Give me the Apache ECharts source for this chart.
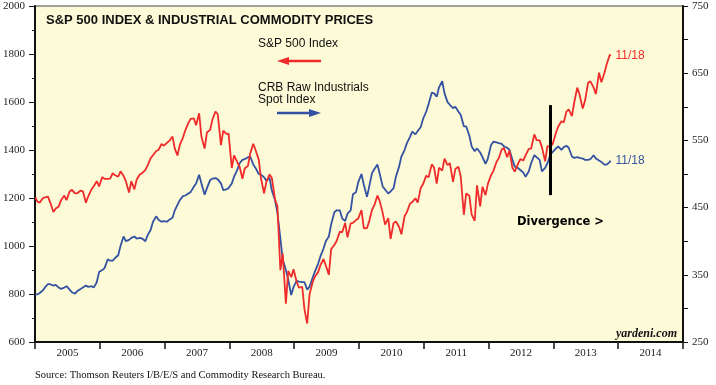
<!DOCTYPE html>
<html>
<head>
<meta charset="utf-8">
<script src="https://cdn.jsdelivr.net/npm/echarts@6/dist/echarts.min.js"></script>
<style>
html,body{margin:0;padding:0;background:#fff;}
#c{width:716px;height:385px;}
</style>
</head>
<body>
<div id="c"></div>
<script>
// Year categories for the x axis labels
const years = ['2005','2006','2007','2008','2009','2010','2011','2012','2013','2014'];

// S&P 500 Index (left axis), semi-monthly readings (15th, 28th) from Jan 2005 to 11/18/2013
const spxValues = [
  1202,
  1185,1181, 1200,1203, 1206,1181, 1142,1156, 1165,1191, 1210,1191, 1227,1234, 1219,1220, 1231,1228, 1180,1207, 1235,1249, 1270,1248,
  1287,1280, 1280,1281, 1303,1295, 1289,1311, 1292,1270, 1223,1270, 1236,1277, 1298,1304, 1317,1336, 1366,1378, 1396,1400, 1425,1418,
  1430,1438, 1456,1406, 1377,1421, 1452,1482, 1512,1530, 1532,1503, 1553,1455, 1406,1473, 1484,1527, 1560,1549, 1420,1481, 1467,1468,
  1325,1378, 1349,1331, 1280,1323, 1334,1386, 1426,1400, 1360,1280, 1220,1267, 1298,1283, 1193,1166, 899,969, 760,896, 870,903,
  850,826, 830,735, 677,798, 850,873, 890,919, 946,919, 880,987, 1004,1021, 1060,1057, 1096,1036, 1094,1096, 1108,1115,
  1150,1074, 1075,1104, 1150,1169, 1210,1187, 1136,1089, 1116,1030, 1096,1102, 1079,1049, 1125,1141, 1176,1183, 1199,1181, 1242,1258,
  1293,1286, 1340,1327, 1260,1326, 1314,1364, 1337,1345, 1267,1321, 1330,1292, 1130,1219, 1209,1131, 1105,1253, 1165,1247, 1212,1258,
  1295,1312, 1350,1366, 1402,1408, 1370,1398, 1325,1310, 1342,1362, 1356,1379, 1405,1406, 1465,1441, 1440,1412, 1353,1416, 1413,1426,
  1472,1498, 1520,1515, 1560,1569, 1541,1598, 1660,1631, 1573,1606, 1680,1686, 1661,1633, 1722,1682, 1721,1757, 1798,1791
];

// CRB Raw Industrials Spot Index (right axis), same dates
const crbValues = [
  321,
  321,323, 327,332, 336,336, 334,335, 331,329, 331,333, 328,324, 322,326, 329,331, 334,332, 333,331, 339,354,
  357,360, 373,371, 371,375, 379,393, 407,400, 402,405, 407,404, 405,404, 400,409, 417,429, 437,432, 429,430,
  429,432, 435,446, 454,461, 467,468, 471,473, 481,486, 499,486, 469,479, 491,493, 494,492, 486,476, 477,479,
  486,496, 506,516, 521,522, 525,526, 514,509, 500,499, 495,490, 494,475, 461,443, 404,373, 357,343, 320,332,
  341,340, 339,339, 328,332, 346,355, 366,377, 389,400, 407,425, 443,446, 446,434, 430,441, 446,470, 473,488,
  500,484, 466,482, 501,507, 514,500, 481,477, 471,474, 479,496, 511,526, 536,546, 555,563, 559,564, 570,582,
  593,604, 621,620, 615,629, 638,620, 607,603, 598,600, 593,588, 571,571, 557,541, 534,538, 532,525, 515,523,
  543,548, 547,546, 545,541, 539,536, 521,511, 509,506, 502,496, 504,516, 528,525, 521,504, 509,516, 529,533,
  538,541, 536,540, 542,539, 526,524, 525,524, 523,521, 521,522, 528,523, 520,518, 514,514, 518,520
];

// Sampling dates
const dates = ['2005-01-03'];
for (let y = 2005; y <= 2013; y++) {
  for (let m = 1; m <= 12; m++) {
    if (y === 2013 && m > 10) break;
    const mm = (m < 10 ? '0' : '') + m;
    dates.push(y + '-' + mm + '-15', y + '-' + mm + '-28');
  }
}
dates.push('2013-11-15', '2013-11-18');

const divergenceDate = '2012-12-13';
const divergenceRange = [1212, 1587];

const RED = '#ef2b2b';
const BLUE = '#3452a2';
const SERIF = "'Times New Roman','Liberation Serif',serif";
const SANS = "Arial,'Liberation Sans',sans-serif";

const chart = echarts.init(document.getElementById('c'), null, {renderer: 'canvas'});
chart.setOption({
  animation: false,
  backgroundColor: '#ffffff',
  title: {
    text: 'S&P 500 INDEX & INDUSTRIAL COMMODITY PRICES',
    left: 41, top: 9,
    textStyle: {fontFamily: SANS, fontSize: 13, fontWeight: 'bold', color: '#111'}
  },
  grid: {
    left: 35, right: 33, top: 6, bottom: 43,
    show: true, backgroundColor: '#fcfad7', borderColor: '#444', borderWidth: 1.2
  },
  xAxis: [
    {
      type: 'category', data: years, boundaryGap: true,
      axisLine: {lineStyle: {color: '#111', width: 2}},
      axisTick: {show: true, length: 7, alignWithLabel: false, lineStyle: {color: '#111', width: 1.5}},
      axisLabel: {fontFamily: SERIF, fontSize: 11, color: '#222', margin: 6},
      splitLine: {show: false}
    },
    {
      type: 'time', min: '2005-01-01', max: '2015-01-01', show: false
    }
  ],
  yAxis: [
    {
      type: 'value', min: 600, max: 2000, interval: 200, position: 'left',
      axisLine: {show: true, lineStyle: {color: '#111', width: 2}},
      axisTick: {show: true, length: 6, lineStyle: {color: '#111', width: 1}},
      minorTick: {show: true, splitNumber: 2, length: 3, lineStyle: {color: '#111', width: 1}},
      axisLabel: {fontFamily: SERIF, fontSize: 11, color: '#222', margin: 10, showMinLabel: true, showMaxLabel: true,
        formatter: v => String(v)},
      splitLine: {show: false}
    },
    {
      type: 'value', min: 250, max: 750, interval: 50, position: 'right',
      axisLine: {show: true, lineStyle: {color: '#111', width: 2}},
      axisTick: {show: true, length: 5, lineStyle: {color: '#111', width: 1}},
      axisLabel: {
        fontFamily: SERIF, fontSize: 11, color: '#222', margin: 9, showMinLabel: true, showMaxLabel: true,
        formatter: v => ((v - 250) % 100 === 0 ? String(v) : '')
      },
      splitLine: {show: false}
    }
  ],
  series: [
    {
      name: 'CRB Raw Industrials Spot Index', type: 'line', xAxisIndex: 1, yAxisIndex: 1,
      data: dates.map((d, i) => [d, crbValues[i]]),
      showSymbol: false, symbol: 'none',
      lineStyle: {color: BLUE, width: 1.8},
      endLabel: {show: true, formatter: '11/18', color: BLUE, fontFamily: SANS, fontSize: 12, distance: 5}
    },
    {
      name: 'S&P 500 Index', type: 'line', xAxisIndex: 1, yAxisIndex: 0,
      data: dates.map((d, i) => [d, spxValues[i]]),
      showSymbol: false, symbol: 'none',
      lineStyle: {color: RED, width: 1.8},
      endLabel: {show: true, formatter: '11/18', color: RED, fontFamily: SANS, fontSize: 12, distance: 5},
      markLine: {
        silent: true, symbol: 'none', label: {show: false},
        lineStyle: {color: '#000', width: 3, type: 'solid'},
        data: [[{coord: [divergenceDate, divergenceRange[0]]}, {coord: [divergenceDate, divergenceRange[1]]}]]
      }
    }
  ],
  graphic: [
    {type: 'text', left: 258, top: 38, style: {text: 'S&P 500 Index', font: '12px ' + SANS, fill: '#111'}},
    {type: 'line', shape: {x1: 286, y1: 61, x2: 321, y2: 61}, style: {stroke: RED, lineWidth: 2.5}},
    {type: 'polygon', shape: {points: [[277, 61], [289, 57], [289, 65]]}, style: {fill: RED}},
    {type: 'text', left: 258, top: 82, style: {text: 'CRB Raw Industrials\nSpot Index', font: '12px ' + SANS, fill: '#111', lineHeight: 12}},
    {type: 'line', shape: {x1: 277, y1: 113, x2: 312, y2: 113}, style: {stroke: BLUE, lineWidth: 2.5}},
    {type: 'polygon', shape: {points: [[321, 113], [309, 109], [309, 117]]}, style: {fill: BLUE}},
    {type: 'text', left: 517, top: 216, style: {text: 'Divergence >', font: 'bold 11.5px "DejaVu Sans",Verdana,sans-serif', fill: '#000'}},
    {type: 'text', right: 39, top: 328, style: {text: 'yardeni.com', font: 'italic bold 12px ' + SERIF, fill: '#111', align: 'right'}},
    {type: 'text', left: 35, top: 370, style: {text: 'Source: Thomson Reuters I/B/E/S and Commodity Research Bureau.', font: '10.5px ' + SERIF, fill: '#111'}}
  ]
});
</script>
</body>
</html>
